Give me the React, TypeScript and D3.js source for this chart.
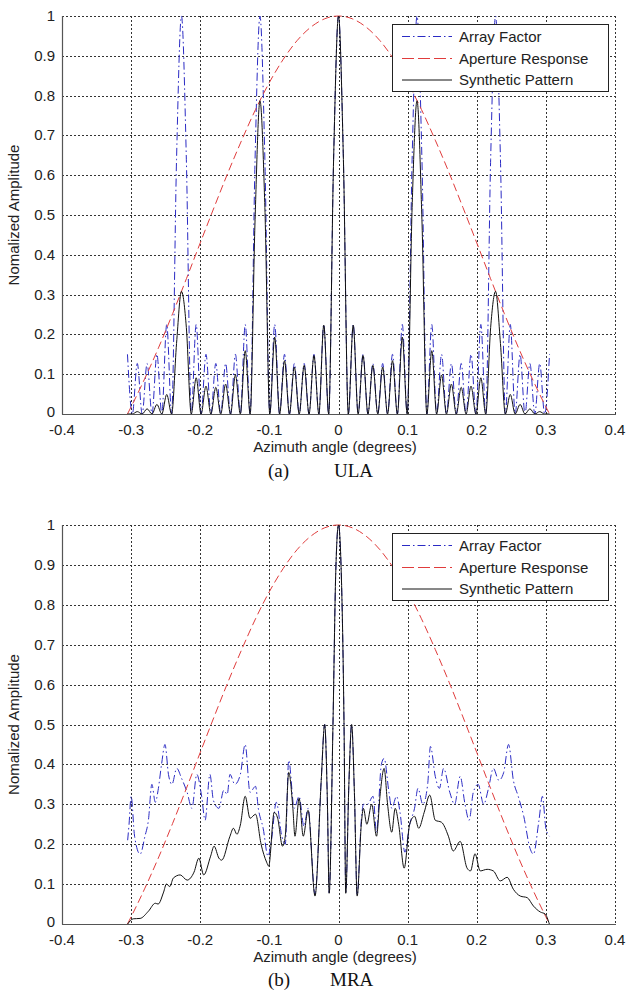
import React from 'react';
import * as d3 from 'd3';

const xTicks = [-0.4, -0.3, -0.2, -0.1, 0, 0.1, 0.2, 0.3, 0.4];
const xTickLabels = ['-0.4', '-0.3', '-0.2', '-0.1', '0', '0.1', '0.2', '0.3', '0.4'];
const yTicks = [0, 0.1, 0.2, 0.3, 0.4, 0.5, 0.6, 0.7, 0.8, 0.9, 1];
const yTickLabels = ['0', '0.1', '0.2', '0.3', '0.4', '0.5', '0.6', '0.7', '0.8', '0.9', '1'];
const legendLabels = ['Array Factor', 'Aperture Response', 'Synthetic Pattern'];

// aperture response (same in both panels)
const apertureAngle = [
  -0.3053, -0.3, -0.28, -0.26, -0.24, -0.22, -0.2, -0.18, -0.16, -0.14, -0.12, -0.1, -0.08, -0.06, -0.04, -0.02,
  0, 0.02, 0.04, 0.06, 0.08, 0.1, 0.12, 0.14, 0.16, 0.18, 0.2, 0.22, 0.24, 0.26, 0.28, 0.3, 0.3053,
];
const apertureResponse = [
  0, 0.018, 0.09, 0.168, 0.252, 0.34, 0.43, 0.519, 0.606, 0.688, 0.765, 0.833, 0.891, 0.938, 0.972, 0.993,
  1, 0.993, 0.972, 0.938, 0.891, 0.833, 0.765, 0.688, 0.606, 0.519, 0.43, 0.34, 0.252, 0.168, 0.09, 0.018, 0,
];

// (a) ULA
const ulaAngle = [
  -0.3053, -0.2982, -0.2911, -0.284, -0.2769, -0.2698, -0.2627, -0.2556, -0.2485, -0.2414, -0.2343, -0.2272,
  -0.2201, -0.213, -0.2059, -0.1988, -0.1917, -0.1846, -0.1775, -0.1704, -0.1633, -0.1562, -0.1491, -0.142,
  -0.1349, -0.1278, -0.1207, -0.1136, -0.1065, -0.0994, -0.0923, -0.0852, -0.0781, -0.071, -0.0639, -0.0568,
  -0.0497, -0.0426, -0.0355, -0.0284, -0.0213, -0.0142, -0.0071, 0,
  0.0071, 0.0142, 0.0213, 0.0284, 0.0355, 0.0426, 0.0497, 0.0568, 0.0639, 0.071, 0.0781, 0.0852, 0.0923,
  0.0994, 0.1065, 0.1136, 0.1207, 0.1278, 0.1349, 0.142, 0.1491, 0.1562, 0.1633, 0.1704, 0.1775, 0.1846,
  0.1917, 0.1988, 0.2059, 0.213, 0.2201, 0.2272, 0.2343, 0.2414, 0.2485, 0.2556, 0.2627, 0.2698, 0.2769,
  0.284, 0.2911, 0.2982, 0.3053,
];
const ulaArrayFactor = [
  0.15, 0, 0.127, 0, 0.127, 0, 0.15, 0, 0.225, 0, 0.64, 1,
  0.64, 0, 0.225, 0, 0.15, 0, 0.127, 0, 0.127, 0, 0.15, 0,
  0.225, 0, 0.64, 1, 0.64, 0, 0.225, 0, 0.15, 0, 0.127, 0,
  0.127, 0, 0.15, 0, 0.225, 0, 0.64, 1,
  0.64, 0, 0.225, 0, 0.15, 0, 0.127, 0, 0.127, 0, 0.15, 0, 0.225,
  0, 0.64, 1, 0.64, 0, 0.225, 0, 0.15, 0, 0.127, 0, 0.127, 0,
  0.15, 0, 0.225, 0, 0.64, 1, 0.64, 0, 0.225, 0, 0.15, 0, 0.127,
  0, 0.127, 0, 0.15,
];
const ulaSynthetic = [
  0, 0, 0.006, 0, 0.013, 0, 0.024, 0, 0.049, 0, 0.177, 0.308,
  0.217, 0, 0.091, 0, 0.07, 0, 0.067, 0, 0.075, 0, 0.098, 0,
  0.159, 0, 0.488, 0.787, 0.519, 0, 0.193, 0, 0.134, 0, 0.118, 0,
  0.122, 0, 0.147, 0, 0.223, 0, 0.639, 1,
  0.639, 0, 0.223, 0, 0.147, 0, 0.122, 0, 0.118, 0, 0.134, 0, 0.193,
  0, 0.519, 0.787, 0.488, 0, 0.159, 0, 0.098, 0, 0.075, 0, 0.067, 0,
  0.07, 0, 0.091, 0, 0.217, 0.308, 0.177, 0, 0.049, 0, 0.024, 0, 0.013,
  0, 0.006, 0, 0,
];

// (b) MRA
const mraArrayAngle = [
  -0.305, -0.303, -0.3, -0.295, -0.287, -0.28, -0.275, -0.27, -0.265, -0.261, -0.256, -0.251, -0.246, -0.241,
  -0.234, -0.227, -0.219, -0.212, -0.205, -0.198, -0.193, -0.186, -0.181, -0.173, -0.166, -0.161, -0.157,
  -0.15, -0.142, -0.135, -0.128, -0.12, -0.116, -0.109, -0.102, -0.097, -0.09, -0.082, -0.077, -0.072,
  -0.064, -0.057, -0.05, -0.044, -0.034, -0.025, -0.02, -0.016, -0.0135, -0.008, -0.004, 0,
  0.004, 0.008, 0.0105, 0.015, 0.019, 0.023, 0.027, 0.033, 0.036, 0.042, 0.05, 0.055, 0.062, 0.066, 0.073,
  0.077, 0.084, 0.089, 0.096, 0.103, 0.11, 0.115, 0.122, 0.129, 0.133, 0.14, 0.146, 0.152, 0.161, 0.168,
  0.176, 0.183, 0.189, 0.195, 0.202, 0.21, 0.217, 0.224, 0.232, 0.239, 0.246, 0.253, 0.26, 0.268, 0.277,
  0.282, 0.29, 0.295, 0.3, 0.305,
];
const mraArrayFactor = [
  0.21, 0.25, 0.32, 0.22, 0.175, 0.22, 0.26, 0.35, 0.305, 0.335, 0.4, 0.45, 0.375, 0.35,
  0.39, 0.365, 0.33, 0.29, 0.375, 0.32, 0.26, 0.375, 0.31, 0.29, 0.335, 0.325, 0.375,
  0.35, 0.375, 0.45, 0.33, 0.345, 0.29, 0.24, 0.17, 0.21, 0.305, 0.22, 0.2, 0.41,
  0.29, 0.32, 0.245, 0.29, 0.075, 0.36, 0.5, 0.3, 0.078, 0.5, 0.88, 1,
  0.88, 0.5, 0.078, 0.35, 0.5, 0.33, 0.072, 0.26, 0.3, 0.3, 0.32, 0.23, 0.4, 0.415, 0.33,
  0.29, 0.32, 0.28, 0.18, 0.25, 0.29, 0.34, 0.3, 0.35, 0.445, 0.37, 0.34, 0.39, 0.33, 0.3,
  0.37, 0.3, 0.26, 0.33, 0.35, 0.3, 0.34, 0.39, 0.36, 0.38, 0.45, 0.36, 0.32, 0.27, 0.19,
  0.175, 0.26, 0.32, 0.24, 0.22,
];
const mraSynthAngle = [
  -0.305, -0.297, -0.287, -0.275, -0.265, -0.261, -0.253, -0.249, -0.244, -0.239, -0.229, -0.219, -0.209,
  -0.202, -0.195, -0.185, -0.18, -0.173, -0.169, -0.157, -0.152, -0.147, -0.142, -0.135, -0.128, -0.12,
  -0.112, -0.104, -0.101, -0.093, -0.088, -0.081, -0.077, -0.072, -0.066, -0.063, -0.057, -0.051, -0.044,
  -0.034, -0.025, -0.02, -0.016, -0.0135, -0.008, -0.004, 0,
  0.004, 0.008, 0.0105, 0.015, 0.019, 0.023, 0.027, 0.033, 0.036, 0.041, 0.048, 0.055, 0.06, 0.066, 0.071,
  0.077, 0.082, 0.087, 0.095, 0.103, 0.11, 0.116, 0.124, 0.132, 0.14, 0.149, 0.159, 0.166, 0.176, 0.186,
  0.191, 0.1975, 0.205, 0.215, 0.224, 0.234, 0.244, 0.253, 0.263, 0.273, 0.282, 0.292, 0.299, 0.305,
];
const mraSynthetic = [
  0, 0.013, 0.014, 0.032, 0.052, 0.05, 0.08, 0.1, 0.094, 0.115, 0.123, 0.11, 0.13,
  0.165, 0.123, 0.17, 0.195, 0.165, 0.16, 0.22, 0.24, 0.225, 0.248, 0.32, 0.265, 0.275,
  0.2, 0.155, 0.145, 0.28, 0.265, 0.195, 0.22, 0.38, 0.29, 0.22, 0.315, 0.22, 0.285,
  0.07, 0.36, 0.5, 0.3, 0.077, 0.5, 0.88, 1,
  0.88, 0.5, 0.077, 0.35, 0.5, 0.33, 0.07, 0.25, 0.29, 0.25, 0.3, 0.22, 0.32, 0.39, 0.3,
  0.23, 0.29, 0.25, 0.14, 0.25, 0.27, 0.24, 0.28, 0.323, 0.26, 0.255, 0.22, 0.183, 0.207, 0.14,
  0.133, 0.176, 0.133, 0.137, 0.133, 0.108, 0.117, 0.087, 0.07, 0.066, 0.045, 0.03, 0.025, 0,
];

const W = 626;
const H = 992;
const LEFT = 62;
const RIGHT = 615;
const SANS = '"Liberation Sans", Arial, Helvetica, sans-serif';
const SERIF = '"Liberation Serif", "Times New Roman", serif';
const BLUE = '#2b2bc4';
const RED = '#e03c3c';
const BLUE_DASH = '8,3,1.5,3';
const RED_DASH = '8,4';

type PanelProps = {
  id: string;
  top: number;
  bottom: number;
  afAngle: number[];
  af: number[];
  synAngle: number[];
  syn: number[];
  tag: string;
  name: string;
  captionY: number;
  nameX: number;
};

const Panel = ({ id, top, bottom, afAngle, af, synAngle, syn, tag, name, captionY, nameX }: PanelProps) => {
  const x = d3.scaleLinear().domain([-0.4, 0.4]).range([LEFT, RIGHT]);
  const y = d3.scaleLinear().domain([0, 1]).range([bottom, top]);

  const path = (xs: number[], ys: number[]) =>
    d3
      .line<number>()
      .x((_, i) => x(xs[i]))
      .y((d) => y(d))
      .curve(d3.curveMonotoneX)(ys) || '';

  const legTop = top + 8;
  const rows = [legTop + 12.5, legTop + 34.5, legTop + 56];

  return (
    <g>
      <defs>
        <clipPath id={id}>
          <rect x={LEFT} y={top - 1} width={RIGHT - LEFT} height={bottom - top + 1} />
        </clipPath>
      </defs>

      {/* grid */}
      {xTicks.slice(1).map((t) => (
        <line key={'gx' + t} x1={Math.round(x(t)) + 0.5} x2={Math.round(x(t)) + 0.5} y1={top} y2={bottom}
          stroke="#333" strokeWidth={1} strokeDasharray="2,2" />
      ))}
      {yTicks.slice(1).map((t) => (
        <line key={'gy' + t} x1={LEFT} x2={RIGHT} y1={Math.round(y(t)) + 0.5} y2={Math.round(y(t)) + 0.5}
          stroke="#333" strokeWidth={1} strokeDasharray="2,2" />
      ))}

      {/* axes */}
      <line x1={LEFT + 0.5} x2={LEFT + 0.5} y1={top} y2={bottom + 0.5} stroke="#555" strokeWidth={1.2} />
      <line x1={LEFT} x2={RIGHT + 1} y1={bottom + 0.5} y2={bottom + 0.5} stroke="#555" strokeWidth={1.2} />

      {/* series */}
      <g clipPath={`url(#${id})`} fill="none">
        <path d={path(afAngle, af)} stroke={BLUE} strokeWidth={1} strokeDasharray={BLUE_DASH} />
        <path d={path(apertureAngle, apertureResponse)} stroke={RED} strokeWidth={1} strokeDasharray={RED_DASH} />
        <path d={path(synAngle, syn)} stroke="#111" strokeWidth={1} />
      </g>

      {/* tick labels */}
      {yTicks.map((t, i) => (
        <text key={'ty' + t} x={55} y={y(t) + (t === 0 ? 3 : 5)} textAnchor="end" fontFamily={SANS} fontSize={15}
          fill="#222">
          {yTickLabels[i]}
        </text>
      ))}
      {xTicks.map((t, i) => (
        <text key={'tx' + t} x={x(t)} y={bottom + 21} textAnchor="middle" fontFamily={SANS} fontSize={15} fill="#222">
          {xTickLabels[i]}
        </text>
      ))}

      <text x={335} y={bottom + 38} textAnchor="middle" fontFamily={SANS} fontSize={15} fill="#222">
        Azimuth angle (degrees)
      </text>
      <text transform={`translate(19,${(top + bottom) / 2}) rotate(-90)`} textAnchor="middle" fontFamily={SANS}
        fontSize={15} fill="#222">
        Nomalized Amplitude
      </text>

      {/* legend */}
      <rect x={392.5} y={legTop + 0.5} width={216} height={67} fill="#fff" stroke="#222" strokeWidth={1} />
      <line x1={402} x2={452} y1={rows[0]} y2={rows[0]} stroke={BLUE} strokeDasharray={BLUE_DASH} />
      <line x1={402} x2={452} y1={rows[1]} y2={rows[1]} stroke={RED} strokeDasharray="12,4" />
      <line x1={402} x2={452} y1={rows[2]} y2={rows[2]} stroke="#111" />
      {legendLabels.map((l, i) => (
        <text key={l} x={459} y={rows[i] + 5} fontFamily={SANS} fontSize={15} fill="#222">
          {l}
        </text>
      ))}

      {/* caption */}
      <text x={268} y={captionY} fontFamily={SERIF} fontSize={19} fill="#111">
        {tag}
      </text>
      <text x={nameX} y={captionY} fontFamily={SERIF} fontSize={19} fill="#111">
        {name}
      </text>
    </g>
  );
};

export default function App() {
  return (
    <svg width={W} height={H} viewBox={`0 0 ${W} ${H}`}
      style={{ position: 'absolute', left: 0, top: 0, background: '#fff' }}>
      <rect width={W} height={H} fill="#fff" />
      <Panel id="clipA" top={16} bottom={414} afAngle={ulaAngle} af={ulaArrayFactor} synAngle={ulaAngle}
        syn={ulaSynthetic} tag="(a)" name="ULA" captionY={477} nameX={334} />
      <Panel id="clipB" top={525} bottom={924} afAngle={mraArrayAngle} af={mraArrayFactor} synAngle={mraSynthAngle}
        syn={mraSynthetic} tag="(b)" name="MRA" captionY={986} nameX={330} />
    </svg>
  );
}
